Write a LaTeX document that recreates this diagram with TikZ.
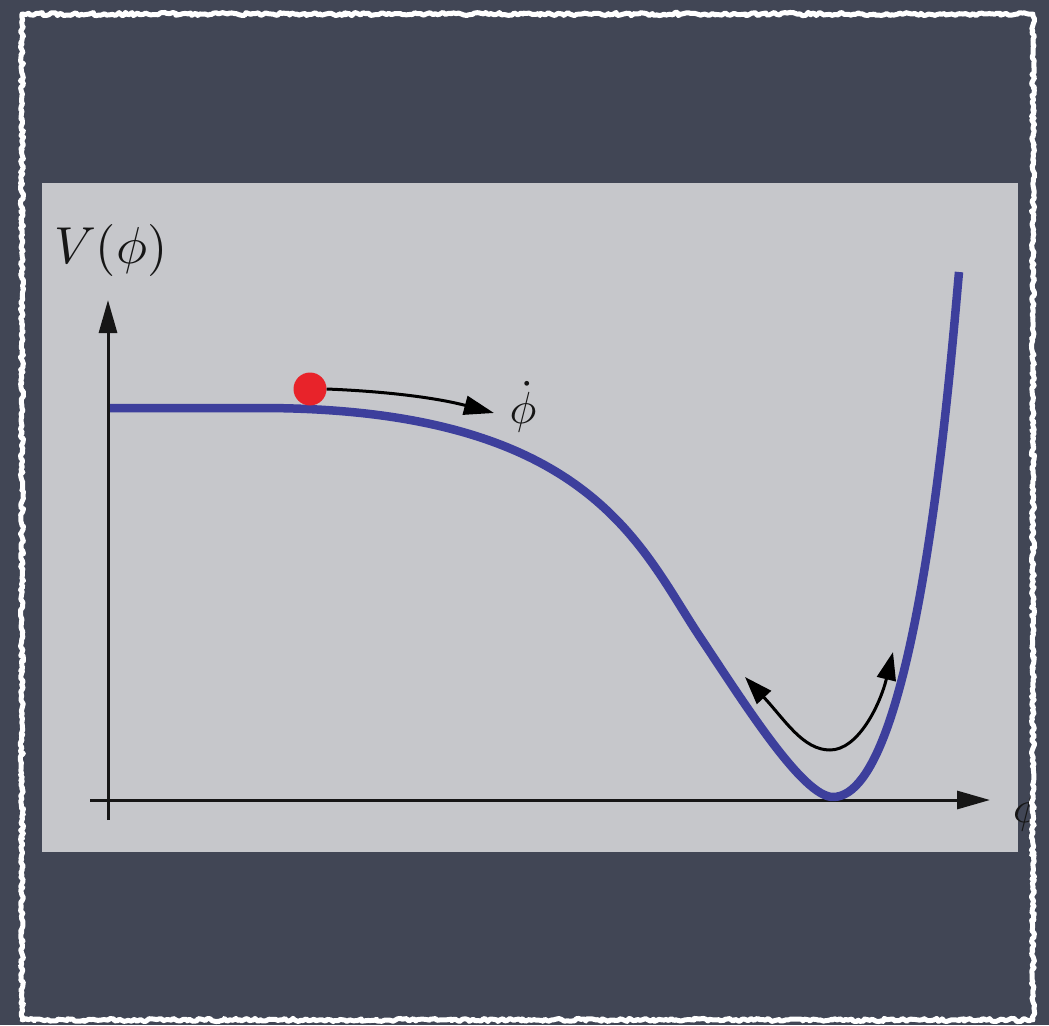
\documentclass[tikz,border=0pt]{standalone}
\usetikzlibrary{arrows.meta,decorations.pathmorphing}
\definecolor{slate}{HTML}{414655}
\definecolor{panel}{HTML}{C6C7CB}
\definecolor{curveblue}{HTML}{3D3F9C}
\definecolor{ballred}{HTML}{E8232A}
\definecolor{ink}{HTML}{161616}
\tikzset{
  axis/.style={draw=ink,line width=3pt,-{Triangle[length=33pt,width=18pt]}},
  motion/.style={draw=black,line width=3pt},
  chalk/.style={draw=white,line width=5pt,line join=round,decorate,decoration={random steps,segment length=2.5pt,amplitude=1.6pt}},
  lbl/.style={inner sep=0pt,text=ink}
}
\begin{document}
\begin{tikzpicture}[x=1pt,y=-1pt]
\useasboundingbox (0,0) rectangle (1049,1025);
\fill[slate] (0,0) rectangle (1049,1025);
\fill[panel] (42,183) rectangle (1018,852);
% axes
\coordinate (ybot) at (108,820);
\coordinate (ytop) at (108,300);
\coordinate (xleft) at (90,800);
\coordinate (xright) at (990,800);
\draw[axis] (ybot) -- (ytop);
\draw[axis] (xleft) -- (xright);
% potential curve
\coordinate (vstart) at (110,408);
\coordinate (vplat) at (260,408);
\coordinate (vinfl) at (700,637);
\coordinate (vmin) at (833,797);
\coordinate (vtop) at (959,272);
\draw[curveblue,line width=8.5pt,line cap=butt,line join=round]
  (vstart) -- (vplat) .. controls (590,408) and (640,547) .. (vinfl)
  .. controls (745,704.5) and (803,797) .. (vmin)
  .. controls (918,797) and (951,357.6) .. (vtop);
% labels
\node[lbl,anchor=base west,scale=5.2] (vlab) at (53,263) {$V(\phi)$};
\node[lbl,anchor=base,scale=4.5] (phidot) at (523,423) {$\dot\phi$};
\begin{scope}
\clip (0,0) rectangle (1031,1025);
\node[lbl,anchor=base west,scale=4.5] (philab) at (1012,822) {$\phi$};
\end{scope}
% ball and arrows
\node[circle,fill=ballred,inner sep=0pt,minimum size=33pt] (ball) at (310,389) {};
\coordinate (rollend) at (494,413);
\draw[motion,-{Triangle[length=30pt,width=19pt]}] (ball.east) .. controls (400,392) and (445,400) .. (rollend);
\coordinate (oscL) at (745,677);
\coordinate (oscB) at (830,750);
\coordinate (oscR) at (893,652);
\draw[motion,{Triangle[length=28pt,width=19pt]}-{Triangle[length=28pt,width=19pt]}]
  (oscL) .. controls (785,720) and (803,750) .. (oscB) .. controls (858,750) and (880,705) .. (oscR);
% chalk frame
\draw[chalk] (22,14) -- (1033,14) -- (1033,1020) -- (22,1020) -- cycle;
\end{tikzpicture}
\end{document}
